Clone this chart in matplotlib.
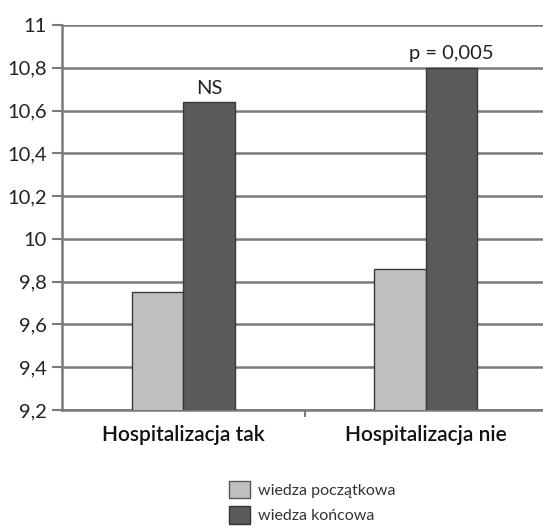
import numpy as np
import matplotlib.pyplot as plt
from matplotlib.patches import Patch

categories = ["Hospitalizacja tak", "Hospitalizacja nie"]
wiedza_poczatkowa = [9.75, 9.86]
wiedza_koncowa = [10.64, 10.8]
annotations = ["NS", "p = 0,005"]
yticks = [9.2, 9.4, 9.6, 9.8, 10.0, 10.2, 10.4, 10.6, 10.8, 11.0]
ytick_labels = ["9,2", "9,4", "9,6", "9,8", "10", "10,2", "10,4", "10,6", "10,8", "11"]

plt.rcParams["font.family"] = ["Lato", "DejaVu Sans"]

fig = plt.figure(figsize=(5.43, 5.31), dpi=100)
ax = fig.add_axes([62 / 543, 1 - 410 / 531, 485 / 543, 385 / 531])

x = np.arange(len(categories))
w = 0.213
light = "#c0c0c0"
dark = "#5a5a5a"
edge = "#3a3a3a"

ax.bar(x - w / 2, wiedza_poczatkowa, w, bottom=0, color=light, edgecolor=edge, linewidth=1.0, zorder=3)
ax.bar(x + w / 2, wiedza_koncowa, w, bottom=0, color=dark, edgecolor=edge, linewidth=1.0, zorder=3)

for xi, v, t in zip(x, wiedza_koncowa, annotations):
    ax.text(xi + w / 2, v + 0.025, t, ha="center", va="bottom", fontsize=14.5, color="#222222")

ax.set_ylim(9.2, 11.0)
ax.set_xlim(-0.5, 1.5)
ax.set_yticks(yticks)
ax.set_yticklabels(ytick_labels, fontsize=14.5, color="#222222")
ax.yaxis.grid(True, color="#7a7a7a", linewidth=1.8, zorder=0)
ax.set_axisbelow(True)

ax.set_xticks([0.5])
ax.set_xticklabels([""])
for xi, c in zip(x, categories):
    ax.text(xi, 9.2 - 0.07, c, ha="center", va="top", fontsize=15, fontweight="semibold",
            color="#111111", transform=ax.transData)

ax.tick_params(axis="y", length=7, width=1.5, color="#7a7a7a", pad=4)
ax.tick_params(axis="x", length=5, width=1.5, color="#7a7a7a")
for s in ["top", "right"]:
    ax.spines[s].set_visible(False)
ax.spines["left"].set_color("#7a7a7a")
ax.spines["left"].set_linewidth(1.8)
ax.spines["bottom"].set_color("#7a7a7a")
ax.spines["bottom"].set_linewidth(1.8)

handles = [Patch(facecolor=light, edgecolor="#555555", label="wiedza początkowa"),
           Patch(facecolor=dark, edgecolor="#333333", label="wiedza końcowa")]
fig.legend(handles=handles, loc="upper left", bbox_to_anchor=(221 / 543, 1 - 473 / 531),
           frameon=False, fontsize=11.5, handlelength=1.3, handleheight=1.3,
           handletextpad=0.5, labelspacing=0.5, borderpad=0, labelcolor="#333333")

fig.savefig("out.png", dpi=100)
